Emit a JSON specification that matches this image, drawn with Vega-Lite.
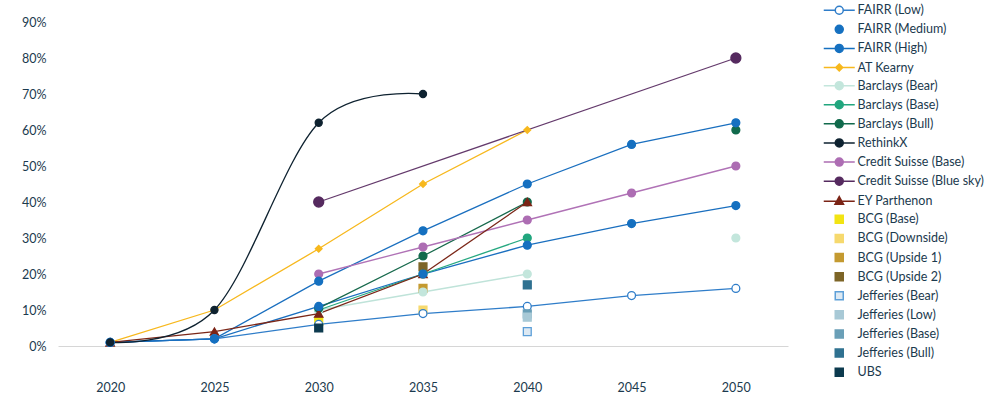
{
  "$schema": "https://vega.github.io/schema/vega-lite/v6.json",
  "autosize": {"type": "none"},
  "padding": {"left": 58, "top": 22, "right": 212, "bottom": 52},
  "width": 730,
  "height": 324,
  "background": "white",
  "config": {
    "view": {"stroke": null},
    "font": "Lato",
    "axis": {"labelFont": "Lato", "labelFontSize": 12.5, "labelColor": "#1b3a4e", "grid": false, "ticks": false, "title": null},
    "legend": {
      "labelFont": "Lato", "labelFontSize": 12.5, "labelColor": "#1b3a4e",
      "title": null, "orient": "none", "legendX": 757, "legendY": -18,
      "symbolSize": 100, "symbolStrokeWidth": 1.5, "symbolOffset": 18, "labelOffset": 12,
      "rowPadding": 4.1, "labelLimit": 300
    }
  },
  "data": {
    "values": [
      {"series": "FAIRR (Low)", "year": 2020, "value": 0.01},
      {"series": "FAIRR (Low)", "year": 2025, "value": 0.02},
      {"series": "FAIRR (Low)", "year": 2030, "value": 0.06},
      {"series": "FAIRR (Low)", "year": 2035, "value": 0.09},
      {"series": "FAIRR (Low)", "year": 2040, "value": 0.11},
      {"series": "FAIRR (Low)", "year": 2045, "value": 0.14},
      {"series": "FAIRR (Low)", "year": 2050, "value": 0.16},
      {"series": "FAIRR (Medium)", "year": 2020, "value": 0.01},
      {"series": "FAIRR (Medium)", "year": 2025, "value": 0.02},
      {"series": "FAIRR (Medium)", "year": 2030, "value": 0.11},
      {"series": "FAIRR (Medium)", "year": 2035, "value": 0.20},
      {"series": "FAIRR (Medium)", "year": 2040, "value": 0.28},
      {"series": "FAIRR (Medium)", "year": 2045, "value": 0.34},
      {"series": "FAIRR (Medium)", "year": 2050, "value": 0.39},
      {"series": "FAIRR (High)", "year": 2020, "value": 0.01},
      {"series": "FAIRR (High)", "year": 2025, "value": 0.02},
      {"series": "FAIRR (High)", "year": 2030, "value": 0.18},
      {"series": "FAIRR (High)", "year": 2035, "value": 0.32},
      {"series": "FAIRR (High)", "year": 2040, "value": 0.45},
      {"series": "FAIRR (High)", "year": 2045, "value": 0.56},
      {"series": "FAIRR (High)", "year": 2050, "value": 0.62},
      {"series": "AT Kearny", "year": 2020, "value": 0.01},
      {"series": "AT Kearny", "year": 2025, "value": 0.10},
      {"series": "AT Kearny", "year": 2030, "value": 0.27},
      {"series": "AT Kearny", "year": 2035, "value": 0.45},
      {"series": "AT Kearny", "year": 2040, "value": 0.60},
      {"series": "Barclays (Bear)", "year": 2030, "value": 0.10},
      {"series": "Barclays (Bear)", "year": 2035, "value": 0.15},
      {"series": "Barclays (Bear)", "year": 2040, "value": 0.20},
      {"series": "Barclays (Bear)", "year": 2045, "value": null},
      {"series": "Barclays (Bear)", "year": 2050, "value": 0.30},
      {"series": "Barclays (Base)", "year": 2030, "value": 0.10},
      {"series": "Barclays (Base)", "year": 2035, "value": 0.20},
      {"series": "Barclays (Base)", "year": 2040, "value": 0.30},
      {"series": "Barclays (Bull)", "year": 2030, "value": 0.105},
      {"series": "Barclays (Bull)", "year": 2035, "value": 0.25},
      {"series": "Barclays (Bull)", "year": 2040, "value": 0.40},
      {"series": "Barclays (Bull)", "year": 2045, "value": null},
      {"series": "Barclays (Bull)", "year": 2050, "value": 0.60},
      {"series": "RethinkX", "year": 2020, "value": 0.01},
      {"series": "RethinkX", "year": 2025, "value": 0.10},
      {"series": "RethinkX", "year": 2030, "value": 0.62},
      {"series": "RethinkX", "year": 2035, "value": 0.70},
      {"series": "Credit Suisse (Base)", "year": 2030, "value": 0.20},
      {"series": "Credit Suisse (Base)", "year": 2035, "value": 0.275},
      {"series": "Credit Suisse (Base)", "year": 2040, "value": 0.35},
      {"series": "Credit Suisse (Base)", "year": 2045, "value": 0.425},
      {"series": "Credit Suisse (Base)", "year": 2050, "value": 0.50},
      {"series": "Credit Suisse (Blue sky)", "year": 2030, "value": 0.40},
      {"series": "Credit Suisse (Blue sky)", "year": 2050, "value": 0.80},
      {"series": "EY Parthenon", "year": 2020, "value": 0.01},
      {"series": "EY Parthenon", "year": 2025, "value": 0.04},
      {"series": "EY Parthenon", "year": 2030, "value": 0.09},
      {"series": "EY Parthenon", "year": 2035, "value": 0.20},
      {"series": "EY Parthenon", "year": 2040, "value": 0.40},
      {"series": "BCG (Base)", "year": 2030, "value": 0.068},
      {"series": "BCG (Downside)", "year": 2035, "value": 0.10},
      {"series": "BCG (Upside 1)", "year": 2035, "value": 0.16},
      {"series": "BCG (Upside 2)", "year": 2035, "value": 0.22},
      {"series": "Jefferies (Bear)", "year": 2040, "value": 0.04},
      {"series": "Jefferies (Low)", "year": 2040, "value": 0.08},
      {"series": "Jefferies (Base)", "year": 2040, "value": 0.089},
      {"series": "Jefferies (Bull)", "year": 2040, "value": 0.17},
      {"series": "UBS", "year": 2030, "value": 0.05}
    ]
  },
  "encoding": {
    "x": {
      "field": "year", "type": "ordinal",
      "scale": {"type": "point", "domain": [2020, 2025, 2030, 2035, 2040, 2045, 2050], "padding": 0.5},
      "axis": {"labelAngle": 0, "domainColor": "#d6d6d6", "domainWidth": 1, "labelPadding": 35}
    },
    "y": {
      "field": "value", "type": "quantitative",
      "scale": {"domain": [0, 0.9], "nice": false},
      "axis": {"format": ".0%", "values": [0, 0.1, 0.2, 0.3, 0.4, 0.5, 0.6, 0.7, 0.8, 0.9], "domain": false, "labelPadding": 12}
    }
  },
  "layer": [
    {
      "transform": [{"filter": "datum.series !== 'RethinkX'"}],
      "mark": {"type": "line", "strokeWidth": 1.3, "invalid": "break-paths-filter-domains"},
      "encoding": {
        "color": {
          "field": "series", "type": "nominal", "legend": null,
          "scale": {
            "domain": ["FAIRR (Low)", "FAIRR (Medium)", "FAIRR (High)", "AT Kearny", "Barclays (Bear)", "Barclays (Base)", "Barclays (Bull)", "Credit Suisse (Base)", "Credit Suisse (Blue sky)", "EY Parthenon"],
            "range": ["#2f7dc9", "#1a6fbf", "#1a6fbf", "#f7b81d", "#bfe3d9", "#26a880", "#17694c", "#b072b6", "#643a6c", "#7b2718"]
          }
        },
        "detail": {"field": "series"}
      }
    },
    {
      "transform": [{"filter": "datum.series === 'RethinkX'"}],
      "mark": {"type": "line", "strokeWidth": 1.3, "interpolate": "cardinal", "color": "#0e2230"},
      "encoding": {}
    },
    {
      "mark": {"type": "point", "filled": false, "opacity": 1, "strokeWidth": 1.3},
      "encoding": {
        "fill": {
          "field": "series", "type": "nominal",
          "scale": {
            "domain": ["FAIRR (Low)", "FAIRR (Medium)", "FAIRR (High)", "AT Kearny", "Barclays (Bear)", "Barclays (Base)", "Barclays (Bull)", "RethinkX", "Credit Suisse (Base)", "Credit Suisse (Blue sky)", "EY Parthenon", "BCG (Base)", "BCG (Downside)", "BCG (Upside 1)", "BCG (Upside 2)", "Jefferies (Bear)", "Jefferies (Low)", "Jefferies (Base)", "Jefferies (Bull)", "UBS"],
            "range": ["#ffffff", "#1570c0", "#1570c0", "#f7b81d", "#c3e6dc", "#21a67e", "#116a4c", "#0e2230", "#ad6db3", "#552a5f", "#7b2416", "#f2e413", "#f6d96e", "#c49a30", "#7d6527", "#dde9f3", "#a8c9d6", "#6a9fb7", "#2f7190", "#0c3a4e"]
          },
          "legend": {
            "symbolType": {"expr": "indexof(['FAIRR (Low)','FAIRR (High)','Barclays (Bear)','Barclays (Base)','Barclays (Bull)','RethinkX','Credit Suisse (Base)','Credit Suisse (Blue sky)'], datum.value) >= 0 ? 'M-3.1,0H-0.8M0.8,0H3.1M0.8,0A0.8,0.8,0,1,1,-0.8,0A0.8,0.8,0,1,1,0.8,0Z' : datum.value === 'FAIRR (Medium)' ? 'M0.8,0A0.8,0.8,0,1,1,-0.8,0A0.8,0.8,0,1,1,0.8,0Z' : datum.value === 'AT Kearny' ? 'M-3.1,0H-0.7M0.7,0H3.1M0,-0.7L0.7,0L0,0.7L-0.7,0Z' : datum.value === 'EY Parthenon' ? 'M-3.1,0H3.1M0,-0.95L0.85,0.6L-0.85,0.6Z' : 'M-0.8,-0.8H0.8V0.8H-0.8Z'"}
          }
        },
        "stroke": {
          "field": "series", "type": "nominal",
          "scale": {
            "domain": ["FAIRR (Low)", "FAIRR (Medium)", "FAIRR (High)", "AT Kearny", "Barclays (Bear)", "Barclays (Base)", "Barclays (Bull)", "RethinkX", "Credit Suisse (Base)", "Credit Suisse (Blue sky)", "EY Parthenon", "BCG (Base)", "BCG (Downside)", "BCG (Upside 1)", "BCG (Upside 2)", "Jefferies (Bear)", "Jefferies (Low)", "Jefferies (Base)", "Jefferies (Bull)", "UBS"],
            "range": ["#2f7dc9", "#1570c0", "#1570c0", "#f7b81d", "#c3e6dc", "#21a67e", "#116a4c", "#0e2230", "#ad6db3", "#552a5f", "#7b2416", "#f2e413", "#f6d96e", "#c49a30", "#7d6527", "#5d9fd8", "#a8c9d6", "#6a9fb7", "#2f7190", "#0c3a4e"]
          },
          "legend": {
            "symbolType": {"expr": "indexof(['FAIRR (Low)','FAIRR (High)','Barclays (Bear)','Barclays (Base)','Barclays (Bull)','RethinkX','Credit Suisse (Base)','Credit Suisse (Blue sky)'], datum.value) >= 0 ? 'M-3.1,0H-0.8M0.8,0H3.1M0.8,0A0.8,0.8,0,1,1,-0.8,0A0.8,0.8,0,1,1,0.8,0Z' : datum.value === 'FAIRR (Medium)' ? 'M0.8,0A0.8,0.8,0,1,1,-0.8,0A0.8,0.8,0,1,1,0.8,0Z' : datum.value === 'AT Kearny' ? 'M-3.1,0H-0.7M0.7,0H3.1M0,-0.7L0.7,0L0,0.7L-0.7,0Z' : datum.value === 'EY Parthenon' ? 'M-3.1,0H3.1M0,-0.95L0.85,0.6L-0.85,0.6Z' : 'M-0.8,-0.8H0.8V0.8H-0.8Z'"}
          }
        },
        "shape": {
          "field": "series", "type": "nominal", "legend": null,
          "scale": {
            "domain": ["UBS", "Jefferies (Bull)", "Jefferies (Base)", "Jefferies (Low)", "Jefferies (Bear)", "BCG (Upside 2)", "BCG (Upside 1)", "BCG (Downside)", "BCG (Base)", "EY Parthenon", "Credit Suisse (Blue sky)", "Credit Suisse (Base)", "RethinkX", "Barclays (Bull)", "Barclays (Base)", "Barclays (Bear)", "AT Kearny", "FAIRR (High)", "FAIRR (Medium)", "FAIRR (Low)"],
            "range": ["square", "square", "square", "square", "square", "square", "square", "square", "square", "triangle-up", "circle", "circle", "circle", "circle", "circle", "circle", "diamond", "circle", "circle", "circle"]
          }
        },
        "size": {
          "condition": [
            {"test": "datum.series === 'Credit Suisse (Blue sky)'", "value": 100},
            {"test": "datum.series === 'AT Kearny'", "value": 45},
            {"test": "datum.series === 'RethinkX'", "value": 50},
            {"test": "datum.series === 'EY Parthenon'", "value": 70}
          ],
          "value": 62
        },
        "order": {"field": "series", "sort": "ascending"}
      }
    }
  ]
}
